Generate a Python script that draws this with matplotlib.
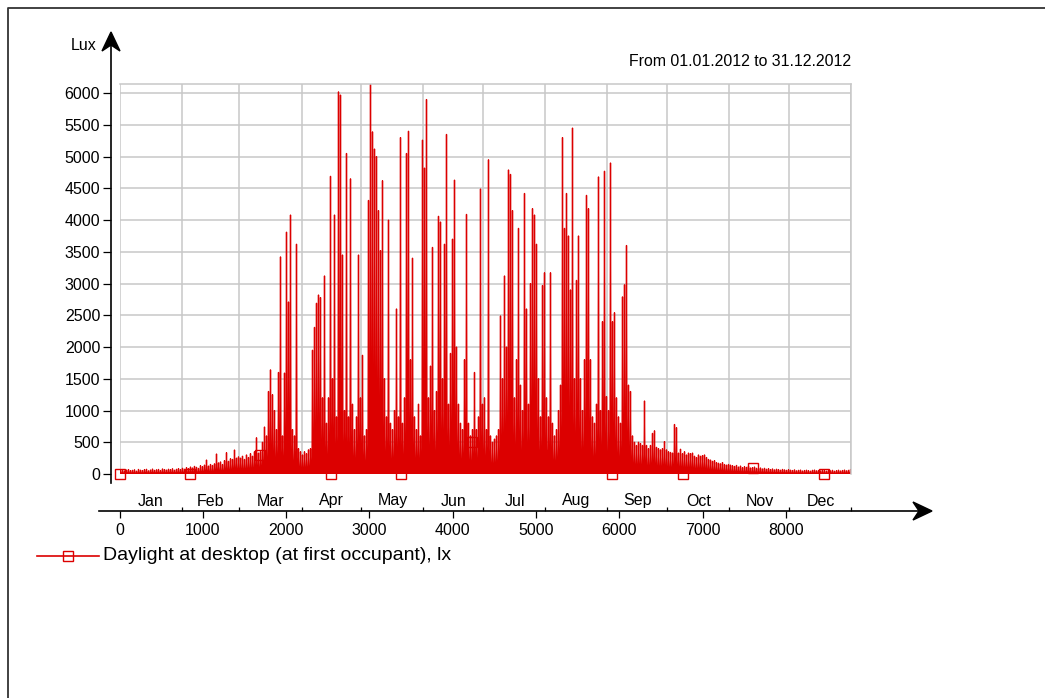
import numpy as np
import matplotlib.pyplot as plt
from matplotlib.lines import Line2D
from matplotlib.patches import Polygon
from matplotlib.transforms import blended_transform_factory

plt.rcParams['font.family'] = ['Liberation Sans', 'DejaVu Sans']

W, H = 1045, 698

# daily peak daylight at the desk, lux, 2012 (leap year)
jan = [55, 60, 48, 62, 70, 52, 58, 66, 45, 72, 60, 55, 68, 74, 50, 63,
       78, 58, 66, 72, 55, 80, 70, 62, 75, 68, 82, 60, 74, 85, 70]
feb = [90, 75, 100, 85, 110, 95, 120, 105, 88, 130, 115, 140, 220, 125, 150,
       135, 160, 315, 175, 190, 150, 210, 335, 200, 240, 230, 378, 250, 270]
mar = [250, 280, 230, 300, 260, 320, 280, 350, 570, 330, 350, 500, 740, 600,
       1300, 1640, 1250, 1000, 700, 1600, 3420, 600, 1590, 3810, 2710, 4080,
       700, 600, 3620, 400, 350]
apr = [300, 350, 320, 380, 400, 1950, 2310, 2690, 2820, 2780, 1200, 3120, 800,
       1200, 4690, 1500, 4080, 900, 6020, 5970, 3450, 1000, 5050, 900, 4650,
       1100, 700, 900, 3450, 1200]
may = [1870, 600, 700, 4310, 6140, 5390, 5120, 5000, 4150, 3520, 4620, 1500,
       900, 4000, 800, 700, 1000, 2600, 900, 5300, 800, 1200, 5050, 5400, 1800,
       3400, 900, 700, 1100, 600, 5260]
jun = [4820, 5900, 1200, 1700, 3570, 1000, 1300, 4060, 3970, 1500, 3620, 5350,
       1100, 1900, 3700, 4630, 2000, 1100, 800, 700, 1800, 4090, 800, 600, 700,
       1600, 700, 900, 4490, 1100]
jul = [1200, 700, 4950, 600, 500, 550, 600, 700, 2490, 1500, 3120, 2000, 4790,
       4720, 4150, 1200, 1800, 3870, 1400, 1000, 4420, 2600, 1100, 3000, 4180,
       4080, 3620, 1500, 900, 2970, 3170]
aug = [1200, 900, 3170, 800, 600, 700, 1000, 1400, 5300, 3870, 4420, 3750,
       2900, 5450, 1500, 3050, 3750, 1500, 1000, 1800, 4390, 4180, 1800, 900,
       800, 1100, 4680, 1000, 2400, 4770, 1220]
sep = [1000, 4900, 2400, 2540, 1200, 900, 800, 2790, 2980, 3600, 1400, 1300,
       600, 500, 450, 500, 480, 450, 1150, 450, 400, 450, 640, 680, 420, 400,
       380, 400, 510, 380]
oct_ = [350, 340, 330, 780, 730, 330, 390, 320, 350, 300, 330, 320, 330, 280,
        260, 300, 280, 290, 300, 260, 230, 220, 200, 210, 180, 170, 160, 180,
        150, 140, 150]
nov = [140, 130, 120, 135, 110, 125, 100, 115, 105, 120, 95, 100, 110, 90, 85,
       95, 80, 90, 75, 85, 70, 80, 65, 75, 70, 60, 72, 65, 58, 68]
dec = [60, 55, 65, 50, 58, 62, 48, 55, 60, 52, 45, 58, 62, 50, 55, 48, 60, 52,
       45, 56, 50, 58, 44, 52, 60, 48, 55, 62, 50, 58, 70]

months = ['Jan', 'Feb', 'Mar', 'Apr', 'May', 'Jun',
          'Jul', 'Aug', 'Sep', 'Oct', 'Nov', 'Dec']

# square markers along the series (hour, lux)
marker_hours = [0, 845, 1690, 2535, 3380, 4225, 5070, 5915, 6760, 7605, 8450]
marker_lux = [0, 0, 300, 0, 0, 500, 300, 0, 0, 100, 0]

RED = '#dc0000'
GRID = '#c8c8c8'


def fx(x):
    return x / W


def fy(y):
    return 1 - y / H


daily = [jan, feb, mar, apr, may, jun, jul, aug, sep, oct_, nov, dec]
peaks = np.concatenate([np.array(m, dtype=float) for m in daily])
n_days = len(peaks)
month_len = [len(m) for m in daily]
month_edges = np.concatenate([[0], np.cumsum(month_len)]) * 24

# dark at night, peak around noon
hours = (np.arange(n_days)[:, None] * 24 + np.array([6, 12, 18])).ravel()
lux = np.column_stack([np.zeros(n_days), peaks, np.zeros(n_days)]).ravel()

fig = plt.figure(figsize=(W / 100, H / 100), dpi=100)
ax = fig.add_axes([fx(119.5), fy(474), (851.5 - 119.5) / W, (474 - 84.3) / H])
ax.set_xlim(0, 8784)
ax.set_ylim(0, 6140)

for e in month_edges:
    ax.axvline(e, color=GRID, lw=1.1, zorder=0)
for v in range(0, 6001, 500):
    ax.axhline(v, color=GRID, lw=1.1, zorder=0)

ax.plot(hours, lux, color=RED, lw=0.95, zorder=2)
ax.plot(marker_hours, marker_lux, ls='none', marker='s', ms=7, mfc='none',
        mec=RED, mew=1.0, clip_on=False, zorder=3)

for side in ['top', 'right']:
    ax.spines[side].set_color(GRID)
    ax.spines[side].set_linewidth(1.1)
ax.spines['left'].set_position(('outward', 6.1))
ax.spines['bottom'].set_position(('outward', 26.6))
ax.spines['left'].set_color('none')
ax.spines['bottom'].set_color('none')

ax.set_yticks(range(0, 6001, 500))
ax.set_xticks(range(0, 8001, 1000))
ax.set_xticks(month_edges, minor=True)
ax.tick_params(axis='y', direction='out', length=5.8, width=0.9, pad=2,
               labelsize=11.5, color='black')
ax.tick_params(axis='x', which='major', direction='out', length=5, width=0.9,
               pad=3.5, labelsize=11.5, color='black')
ax.tick_params(axis='x', which='minor', direction='in', length=3, width=0.9,
               color='black')

# month names sit between the month ticks, above the hour axis
trans = blended_transform_factory(ax.transData, fig.transFigure)
for i, name in enumerate(months):
    mid = (month_edges[i] + month_edges[i + 1]) / 2
    ax.text(mid, fy(501), name, transform=trans, ha='center', va='center',
            fontsize=11.5)

# axis lines with arrow heads
fig.add_artist(Line2D([fx(111), fx(111)], [fy(483), fy(44)],
                      color='black', lw=1.2))
fig.add_artist(Polygon([(fx(111), fy(32)), (fx(102), fy(51)),
                        (fx(111), fy(45)), (fx(120), fy(51))],
                       closed=True, color='black', transform=fig.transFigure))
fig.add_artist(Line2D([fx(99), fx(920)], [fy(511), fy(511)],
                      color='black', lw=1.2))
fig.add_artist(Polygon([(fx(932), fy(511)), (fx(913), fy(502)),
                        (fx(919), fy(511)), (fx(913), fy(520))],
                       closed=True, color='black', transform=fig.transFigure))

fig.text(fx(84), fy(45), 'Lux', ha='center', va='center', fontsize=11.5)
fig.text(fx(851), fy(62), 'From 01.01.2012 to 31.12.2012', ha='right',
         va='center', fontsize=11.4)

# legend entry
fig.add_artist(Line2D([fx(37), fx(99)], [fy(556), fy(556)], color=RED, lw=1.2))
fig.add_artist(Line2D([fx(68)], [fy(556)], ls='none', marker='s', ms=7,
                      mfc='none', mec=RED, mew=1.0))
fig.text(fx(103), fy(556), 'Daylight at desktop (at first occupant), lx',
         ha='left', va='center', fontsize=14)

# page frame
fig.add_artist(Line2D([fx(8), fx(8), fx(1045)], [fy(698), fy(8), fy(8)],
                      color='#333333', lw=1.3))

fig.savefig('out.png', dpi=100)
